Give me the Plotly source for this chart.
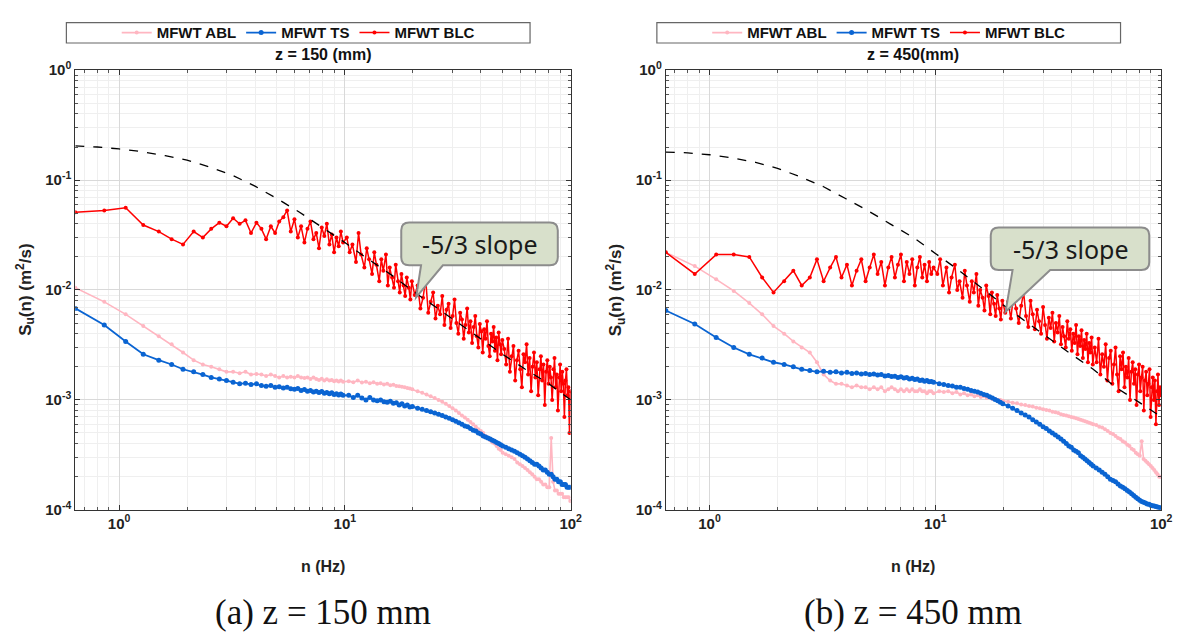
import plotly.graph_objects as go

W, H = 1189, 642

# ---------------- data ----------------
freq_hz = [0.64, 0.86, 1.07, 1.28, 1.50, 1.71, 1.92, 2.14, 2.35, 2.56, 2.78,
           2.99, 3.20, 3.42, 3.63, 3.84, 4.06, 4.27, 4.48, 4.70, 4.91, 5.12,
           5.34, 5.55, 5.76, 5.98, 6.19, 6.40, 6.62, 6.83, 7.04, 7.26, 7.47,
           7.68, 7.90, 8.11, 8.32, 8.54, 8.75, 8.96, 9.18, 9.39, 9.60, 9.82,
           10.4, 10.9, 11.4, 11.9, 12.4, 12.9, 13.4, 13.9, 14.4, 14.9,
           15.4, 15.9, 16.4, 16.9, 17.4, 17.9, 18.4, 18.9, 19.4, 19.9,
           21, 22, 23, 24, 25, 26, 27, 28, 29, 30,
           31, 32, 33, 34, 35, 36, 37, 38, 39, 40,
           41, 42, 43, 44, 45, 46, 47, 48, 49, 50,
           51.6, 53.2, 54.8, 56.4, 58.0, 59.6, 61.2, 62.8, 64.4, 66.0,
           67.6, 69.2, 70.8, 72.4, 74.0, 75.6, 77.2, 78.8, 80.4, 82.0,
           83.6, 85.2, 86.8, 88.4, 90.0, 91.6, 93.2, 94.8, 96.4, 98.0,
           99.6]

# denser frequency grid of the BLC (red) spectra
freq_blc = [0.64, 0.86, 1.07, 1.28, 1.50, 1.71, 1.92, 2.14, 2.35, 2.56, 2.78,
            2.99, 3.20, 3.42, 3.63, 3.84, 4.06, 4.27, 4.48, 4.70, 4.91, 5.12,
            5.34, 5.55, 5.76, 5.98, 6.19, 6.40, 6.62, 6.83, 7.04, 7.26, 7.47,
            7.68, 7.90, 8.11, 8.32, 8.54, 8.75, 8.96, 9.18, 9.39, 9.60, 9.82,
            10.2, 10.5, 10.8, 11.2, 11.5, 11.8, 12.2, 12.5, 12.8, 13.2,
            13.5, 13.8, 14.2, 14.5, 14.8, 15.2, 15.5, 15.8, 16.2, 16.5,
            16.8, 17.2, 17.5, 17.8, 18.2, 18.5, 18.8, 19.2, 19.5, 19.8,
            20.4, 21.0, 21.6, 22.2, 22.8, 23.4, 24.0, 24.6, 25.2, 25.8,
            26.4, 27.0, 27.6, 28.2, 28.8, 29.4, 30.0, 30.6, 31.2, 31.8,
            32.4, 33.0, 33.6, 34.2, 34.8, 35.4, 36.0, 36.6, 37.2, 37.8,
            38.4, 39.0, 39.6, 40.2, 40.8, 41.4, 42.0, 42.6, 43.2, 43.8,
            44.4, 45.0, 45.6, 46.2, 46.8, 47.4, 48.0, 48.6, 49.2, 49.8,
            50.8, 51.8, 52.8, 53.8, 54.8, 55.8, 56.8, 57.8, 58.8, 59.8,
            60.8, 61.8, 62.8, 63.8, 64.8, 65.8, 66.8, 67.8, 68.8, 69.8,
            70.8, 71.8, 72.8, 73.8, 74.8, 75.8, 76.8, 77.8, 78.8, 79.8,
            80.8, 81.8, 82.8, 83.8, 84.8, 85.8, 86.8, 87.8, 88.8, 89.8,
            90.8, 91.8, 92.8, 93.8, 94.8, 95.8, 96.8, 97.8, 98.8, 99.8]

# z = 150 mm
abl_150 = [0.0105, 0.0078, 0.0060, 0.0047, 0.0038, 0.0032, 0.0027, 0.0023, 0.0021, 0.0020, 0.0019,
           0.0018, 0.0018, 0.00175, 0.0018, 0.0017, 0.00172, 0.0017, 0.00165, 0.0017, 0.00165, 0.0016,
           0.00165, 0.0016, 0.00162, 0.0016, 0.00165, 0.0016, 0.00158, 0.0016, 0.00155, 0.0016, 0.00155,
           0.00152, 0.00156, 0.0015, 0.00154, 0.0015, 0.00152, 0.00148, 0.0015, 0.00147, 0.0015, 0.00146,
           0.00148, 0.00145, 0.0015, 0.00144, 0.00146, 0.00142, 0.00145, 0.0014, 0.00142, 0.00138,
           0.0014, 0.00136, 0.00137, 0.00134, 0.00133, 0.00132, 0.0013, 0.00128, 0.00127, 0.00125,
           0.0012, 0.00116, 0.00112, 0.00108, 0.00104, 0.001, 0.00096, 0.00092, 0.00088, 0.00084,
           0.0008, 0.00076, 0.00072, 0.00069, 0.00066, 0.00063, 0.0006, 0.00057, 0.00054, 0.00052,
           0.0005, 0.00047, 0.00045, 0.00043, 0.00041, 0.0004, 0.00038, 0.00036, 0.00035, 0.00033,
           0.00032, 0.00031, 0.0003, 0.00029, 0.00027, 0.00026, 0.00025, 0.00024, 0.00023, 0.00022,
           0.00021, 0.0002, 0.00019, 0.00019, 0.00018, 0.00017, 0.00017, 0.00016, 0.00016, 0.00045,
           0.00018, 0.00015, 0.00015, 0.00014, 0.00014, 0.00014, 0.00013, 0.00013, 0.00013, 0.00013,
           0.00012]
ts_150 = [0.0068, 0.0048, 0.0034, 0.0026, 0.0023, 0.0021, 0.0019, 0.0018, 0.0017, 0.0016, 0.00155,
          0.0015, 0.00145, 0.0014, 0.00142, 0.00138, 0.0014, 0.00135, 0.00133, 0.00135, 0.0013, 0.00132,
          0.00128, 0.0013, 0.00126, 0.00125, 0.00127, 0.00122, 0.00124, 0.0012, 0.00122, 0.00118, 0.0012,
          0.00117, 0.00119, 0.00115, 0.00117, 0.00114, 0.00116, 0.00112, 0.00114, 0.00111, 0.00113, 0.0011,
          0.0011, 0.00105, 0.0011, 0.00104, 0.001, 0.00105, 0.001, 0.00098, 0.001, 0.00096,
          0.00095, 0.00097, 0.00093, 0.00094, 0.0009, 0.00092, 0.00088, 0.0009, 0.00086, 0.00087,
          0.00084, 0.00082, 0.0008, 0.00078, 0.00076, 0.00074, 0.00072, 0.0007, 0.00068, 0.00066,
          0.00064, 0.00062, 0.0006, 0.00058, 0.00057, 0.00055, 0.00053, 0.00052, 0.0005, 0.00049,
          0.00047, 0.00046, 0.00045, 0.00044, 0.00043, 0.00042, 0.00041, 0.0004, 0.00039, 0.00038,
          0.00037, 0.00036, 0.00035, 0.00034, 0.00033, 0.00032, 0.00031, 0.0003, 0.00029, 0.00028,
          0.00027, 0.00026, 0.00026, 0.00025, 0.00024, 0.00023, 0.00023, 0.00022, 0.00021, 0.00021,
          0.0002, 0.00019, 0.00019, 0.00018, 0.00018, 0.00017, 0.00017, 0.00017, 0.00016, 0.00016,
          0.00016]
blc_150 = [0.051, 0.053, 0.056, 0.039, 0.034, 0.029, 0.026, 0.034, 0.030, 0.036, 0.041,
           0.038, 0.045, 0.040, 0.043, 0.033, 0.041, 0.036, 0.029, 0.038, 0.033, 0.042,
           0.046, 0.053, 0.034, 0.044, 0.030, 0.038, 0.027, 0.036, 0.042, 0.029, 0.033,
           0.024, 0.037, 0.031, 0.040, 0.026, 0.032, 0.022, 0.030, 0.025, 0.034, 0.027,
           0.030, 0.022, 0.026, 0.018, 0.033, 0.021, 0.016, 0.024, 0.019, 0.014,
           0.022, 0.017, 0.012, 0.019, 0.015, 0.021, 0.011, 0.016, 0.013, 0.0105,
           0.017, 0.012, 0.0095, 0.014, 0.011, 0.0088, 0.013, 0.0105, 0.0082, 0.012,
           0.0090, 0.0110, 0.0068, 0.0085, 0.0125, 0.0062, 0.0078, 0.0095, 0.0055, 0.0072,
           0.0060, 0.0088, 0.0048, 0.0066, 0.0075, 0.0045, 0.0058, 0.0082, 0.0050, 0.0040,
           0.0062, 0.0054, 0.0036, 0.0048, 0.0068, 0.0041, 0.0052, 0.0033, 0.0046, 0.0058,
           0.0038, 0.0030, 0.0049, 0.0042, 0.0027, 0.0044, 0.0036, 0.0052, 0.0031, 0.0025,
           0.0040, 0.0034, 0.0046, 0.0028, 0.0037, 0.0023, 0.0041, 0.0032, 0.0026, 0.0035,
           0.0029, 0.0021, 0.0036, 0.0018, 0.0025, 0.0031, 0.0015, 0.0023, 0.0028, 0.0019,
           0.0013, 0.0026, 0.0022, 0.0032, 0.0017, 0.0024, 0.0012, 0.0020, 0.0027, 0.0016,
           0.0022, 0.0011, 0.0019, 0.0025, 0.0015, 0.0021, 0.0009, 0.0018, 0.0023, 0.0014,
           0.0020, 0.0016, 0.0010, 0.0019, 0.0024, 0.0013, 0.0017, 0.0008, 0.0016, 0.0021,
           0.0012, 0.0018, 0.0014, 0.0007, 0.0015, 0.0019, 0.0011, 0.0013, 0.0005, 0.0012]

# z = 450 mm
abl_450 = [0.022, 0.0165, 0.0125, 0.0098, 0.0076, 0.0060, 0.0047, 0.0040, 0.0034, 0.0030, 0.0027,
           0.0022, 0.0017, 0.0015, 0.0014, 0.0014, 0.00135, 0.0013, 0.00135, 0.0013, 0.0013, 0.00125,
           0.0013, 0.00125, 0.0013, 0.0012, 0.00125, 0.0013, 0.00125, 0.0012, 0.00125, 0.0012, 0.00125,
           0.0012, 0.00125, 0.0012, 0.0012, 0.00125, 0.0012, 0.0012, 0.00115, 0.0012, 0.0012, 0.00115,
           0.0012, 0.00118, 0.0012, 0.00115, 0.00118, 0.00112, 0.00115, 0.0011, 0.00112, 0.00108,
           0.0011, 0.00106, 0.00108, 0.00104, 0.00105, 0.00102, 0.00102, 0.001, 0.001, 0.00098,
           0.00096, 0.00094, 0.00093, 0.00091, 0.0009, 0.00088, 0.00087, 0.00085, 0.00084, 0.00082,
           0.00081, 0.0008, 0.00078, 0.00077, 0.00076, 0.00074, 0.00073, 0.00072, 0.00071, 0.0007,
           0.00069, 0.00068, 0.00067, 0.00066, 0.00065, 0.00064, 0.00063, 0.00062, 0.00061, 0.0006,
           0.00059, 0.00057, 0.00056, 0.00054, 0.00052, 0.0005, 0.00049, 0.00047, 0.00045, 0.00044,
           0.00042, 0.00041, 0.00039, 0.00038, 0.00036, 0.00035, 0.00033, 0.00032, 0.00031, 0.00042,
           0.00029, 0.00028, 0.00027, 0.00026, 0.00025, 0.00024, 0.00023, 0.00022, 0.00021, 0.0002,
           0.0002]
ts_450 = [0.0065, 0.0049, 0.0037, 0.0030, 0.0026, 0.0024, 0.0022, 0.0021, 0.0020, 0.0019, 0.00185,
          0.0018, 0.00182, 0.00178, 0.0018, 0.00176, 0.00178, 0.00174, 0.00176, 0.00172, 0.00174, 0.0017,
          0.00172, 0.00168, 0.0017, 0.00165, 0.00167, 0.00163, 0.00164, 0.0016, 0.00162, 0.00158, 0.0016,
          0.00155, 0.00157, 0.00153, 0.00155, 0.0015, 0.00152, 0.00148, 0.0015, 0.00146, 0.00147, 0.00145,
          0.0014, 0.00138, 0.00135, 0.00134, 0.0013, 0.0013, 0.00127, 0.00125, 0.00122, 0.0012,
          0.00118, 0.00115, 0.00112, 0.0011, 0.00107, 0.00104, 0.00101, 0.00098, 0.00095, 0.00092,
          0.00088, 0.00084, 0.0008, 0.00076, 0.00073, 0.0007, 0.00066, 0.00063, 0.0006, 0.00057,
          0.00055, 0.00052, 0.0005, 0.00048, 0.00046, 0.00044, 0.00042, 0.0004, 0.00038, 0.00037,
          0.00035, 0.00034, 0.00033, 0.00031, 0.0003, 0.00029, 0.00028, 0.00027, 0.00026, 0.00025,
          0.00024, 0.00023, 0.00022, 0.00021, 0.0002, 0.00019, 0.000185, 0.00018, 0.000172, 0.000165,
          0.00016, 0.000155, 0.00015, 0.000145, 0.00014, 0.000135, 0.00013, 0.000126, 0.000122, 0.000119,
          0.000117, 0.000115, 0.000113, 0.000112, 0.00011, 0.000109, 0.000108, 0.000107, 0.000106, 0.000105,
          0.000104]
blc_450 = [0.022, 0.014, 0.021, 0.021, 0.020, 0.013, 0.0095, 0.012, 0.015, 0.011, 0.013,
           0.019, 0.012, 0.016, 0.020, 0.013, 0.017, 0.011, 0.015, 0.019, 0.012, 0.016,
           0.021, 0.014, 0.018, 0.011, 0.016, 0.020, 0.013, 0.017, 0.021, 0.012, 0.018,
           0.014, 0.019, 0.011, 0.016, 0.020, 0.013, 0.017, 0.012, 0.018, 0.014, 0.016,
           0.014, 0.019, 0.011, 0.016, 0.0095, 0.013, 0.017, 0.010, 0.012, 0.0085,
           0.015, 0.011, 0.0078, 0.012, 0.0095, 0.014, 0.0072, 0.010, 0.0085, 0.0065,
           0.011, 0.0088, 0.0060, 0.0095, 0.0075, 0.0058, 0.0090, 0.0068, 0.0054, 0.0080,
           0.0062, 0.0078, 0.0055, 0.0090, 0.0068, 0.0050, 0.0072, 0.0095, 0.0058, 0.0046,
           0.0080, 0.0060, 0.0044, 0.0066, 0.0052, 0.0040, 0.0070, 0.0048, 0.0036, 0.0056,
           0.0045, 0.0062, 0.0034, 0.0050, 0.0041, 0.0058, 0.0032, 0.0046, 0.0038, 0.0030,
           0.0052, 0.0036, 0.0044, 0.0028, 0.0040, 0.0033, 0.0048, 0.0026, 0.0038, 0.0031,
           0.0043, 0.0024, 0.0035, 0.0029, 0.0040, 0.0022, 0.0033, 0.0027, 0.0037, 0.0021,
           0.0030, 0.0022, 0.0036, 0.0017, 0.0026, 0.0020, 0.0032, 0.0015, 0.0024, 0.0028,
           0.0014, 0.0021, 0.0030, 0.0017, 0.0012, 0.0025, 0.0019, 0.0027, 0.0013, 0.0020,
           0.0016, 0.0024, 0.0010, 0.0018, 0.0022, 0.0014, 0.0019, 0.0009, 0.0017, 0.0021,
           0.0012, 0.0016, 0.0020, 0.0008, 0.0015, 0.0018, 0.0011, 0.0014, 0.0019, 0.0007,
           0.0013, 0.0016, 0.0010, 0.0015, 0.0006, 0.0012, 0.0017, 0.0009, 0.0013, 0.0011]

# reference (dashed) spectra
model_freq = [0.64, 0.8, 1, 1.25, 1.6, 2, 2.5, 3.2, 4, 5, 6.3, 8, 10, 12.5, 16, 20,
              25, 32, 40, 50, 63, 80, 100]
model_150 = [0.205, 0.2, 0.192, 0.182, 0.167, 0.152, 0.132, 0.11, 0.088, 0.068, 0.051,
             0.037, 0.027, 0.0195, 0.0138, 0.0098, 0.0071, 0.005, 0.0036, 0.0026, 0.0019,
             0.0014, 0.001]
model_450 = [0.18, 0.177, 0.17, 0.16, 0.145, 0.128, 0.108, 0.087, 0.068, 0.053, 0.040,
             0.030, 0.0215, 0.0155, 0.0105, 0.0073, 0.0052, 0.0036, 0.0026, 0.0019, 0.0013,
             0.00095, 0.0007]

series_names = ["MFWT ABL", "MFWT TS", "MFWT BLC"]
series_colors = ["#ffb6c1", "#0a64d2", "#ff0000"]
panel_titles = ["z = 150 (mm)", "z = 450(mm)"]
captions = ["(a) z = 150 mm", "(b) z = 450 mm"]
x_tick_vals = [1, 10, 100]
x_tick_text = ["<b>10<sup>0</sup></b>", "<b>10<sup>1</sup></b>", "<b>10<sup>2</sup></b>"]
y_tick_vals = [1e-4, 1e-3, 1e-2, 1e-1, 1]
y_tick_text = ["<b>10<sup>-4</sup></b>", "<b>10<sup>-3</sup></b>", "<b>10<sup>-2</sup></b>",
               "<b>10<sup>-1</sup></b>", "<b>10<sup>0</sup></b>"]

for arr in (abl_150, ts_150, abl_450, ts_450):
    assert len(arr) == len(freq_hz), len(arr)
for arr in (blc_150, blc_450):
    assert len(arr) == len(freq_blc), len(arr)

# ---------------- layout geometry (pixels) ----------------
def px(x):
    return x / W

def py(y):
    return 1 - y / H

panels = [
    dict(x0=76, x1=576, data=[abl_150, ts_150, blc_150], model=model_150,
         legend_box=(67, 12, 535, 33), bubble=(405, 218, 563, 262, 425, 447, 420, 295)),
    dict(x0=672, x1=1172, data=[abl_450, ts_450, blc_450], model=model_450,
         legend_box=(663, 12, 1131, 33), bubble=(1000, 223, 1160, 267, 1022, 1060, 1015, 310)),
]
PLOT_TOP, PLOT_BOT = 61, 514
FONT = "Arial, Liberation Sans, sans-serif"

fig = go.Figure()
shapes = []
annotations = []
layout_axes = {}

for i, p in enumerate(panels):
    sfx = "" if i == 0 else str(i + 1)
    xa, ya = "x" + sfx, "y" + sfx
    leg = "legend" if i == 0 else "legend2"
    xs = [freq_hz, freq_hz, freq_blc]
    msizes = [4, 5, 4]
    widths = [1.6, 1.8, 1.5]
    for name, color, xv, yv, ms, lw in zip(series_names, series_colors, xs, p["data"], msizes, widths):
        fig.add_trace(go.Scatter(
            x=xv, y=yv, mode="lines+markers", name=name,
            line=dict(color=color, width=lw),
            marker=dict(color=color, size=ms),
            xaxis=xa, yaxis=ya, legend=leg))
    fig.add_trace(go.Scatter(
        x=model_freq, y=p["model"], mode="lines", showlegend=False,
        line=dict(color="black", width=1.3, dash="dash"),
        xaxis=xa, yaxis=ya, hoverinfo="skip"))

    common = dict(
        type="log", showline=True, linecolor="#333", linewidth=1, mirror="ticks",
        ticks="inside", ticklen=5, tickcolor="#333",
        showgrid=True, gridcolor="#d9d9d9", gridwidth=1,
        tickfont=dict(family=FONT, size=15, color="#222"),
        zeroline=False,
    )
    layout_axes["xaxis" + sfx] = dict(
        common, domain=[px(p["x0"]), px(p["x1"])], anchor=ya,
        range=[-0.1938, 2], tickvals=x_tick_vals, ticktext=x_tick_text,
        minor=dict(tickvals=[0.7, 0.8, 0.9, 2, 3, 4, 5, 6, 7, 8, 9,
                             20, 30, 40, 50, 60, 70, 80, 90],
                   ticks="inside", ticklen=3, tickcolor="#555",
                   showgrid=True, gridcolor="#efefef", gridwidth=1))
    layout_axes["yaxis" + sfx] = dict(
        common, domain=[py(PLOT_BOT), py(PLOT_TOP)], anchor=xa,
        range=[-4, 0], tickvals=y_tick_vals, ticktext=y_tick_text,
        minor=dict(tickvals=[k * 10 ** e for e in (-4, -3, -2, -1) for k in range(2, 10)],
                   ticks="inside", ticklen=3, tickcolor="#555",
                   showgrid=True, gridcolor="#efefef", gridwidth=1))

    cx = (p["x0"] + p["x1"]) / 2
    # legend frame
    lx0, ly0, lx1, ly1 = p["legend_box"]
    shapes.append(dict(type="rect", xref="paper", yref="paper",
                       x0=px(lx0), x1=px(lx1), y0=py(ly1), y1=py(ly0),
                       line=dict(color="#666", width=1.2), fillcolor="white", layer="below"))
    layout_axes[leg] = dict(
        x=px((lx0 + lx1) / 2), y=py((ly0 + ly1) / 2), xanchor="center", yanchor="middle",
        orientation="h", bgcolor="rgba(0,0,0,0)", borderwidth=0,
        font=dict(family=FONT, size=15, color="#111", weight="bold"),
        itemwidth=30, tracegroupgap=0)

    # title
    annotations.append(dict(text="<b>" + panel_titles[i] + "</b>", x=px(cx), y=py(45),
                            xref="paper", yref="paper", showarrow=False,
                            xanchor="center", yanchor="middle",
                            font=dict(family=FONT, size=16, color="#111")))
    # axis titles
    annotations.append(dict(text="<b>n (Hz)</b>", x=px(cx), y=py(572),
                            xref="paper", yref="paper", showarrow=False,
                            xanchor="center", yanchor="middle",
                            font=dict(family=FONT, size=16, color="#222")))
    annotations.append(dict(text="<b>S<sub>u</sub>(n) (m<sup>2</sup>/s)</b>",
                            x=px(p["x0"] - 50), y=py((PLOT_TOP + PLOT_BOT) / 2),
                            xref="paper", yref="paper", showarrow=False, textangle=-90,
                            xanchor="center", yanchor="middle",
                            font=dict(family=FONT, size=17, color="#222")))
    # caption
    annotations.append(dict(text=captions[i], x=px(cx), y=py(620),
                            xref="paper", yref="paper", showarrow=False,
                            xanchor="center", yanchor="middle",
                            font=dict(family="Liberation Serif, Times New Roman", size=35,
                                      color="#111")))
    # speech bubble
    bx0, by0, bx1, by1, tb0, tb1, tipx, tipy = p["bubble"]
    r = 8
    pts = [
        ("M", bx0 + r, by0), ("L", bx1 - r, by0), ("Q", bx1, by0, bx1, by0 + r),
        ("L", bx1, by1 - r), ("Q", bx1, by1, bx1 - r, by1), ("L", tb1, by1),
        ("L", tipx, tipy), ("L", tb0, by1), ("L", bx0 + r, by1),
        ("Q", bx0, by1, bx0, by1 - r), ("L", bx0, by0 + r), ("Q", bx0, by0, bx0 + r, by0),
    ]
    path = ""
    for cmd in pts:
        c = cmd[0]
        coords = cmd[1:]
        s = []
        for j in range(0, len(coords), 2):
            s.append(f"{px(coords[j]):.5f},{py(coords[j + 1]):.5f}")
        path += c + " " + " ".join(s) + " "
    path += "Z"
    shapes.append(dict(type="path", path=path, xref="paper", yref="paper",
                       fillcolor="#d8e0cb", line=dict(color="#8c8c8c", width=2), layer="above"))
    annotations.append(dict(text="-5/3 slope", x=px((bx0 + bx1) / 2), y=py((by0 + by1) / 2),
                            xref="paper", yref="paper", showarrow=False,
                            xanchor="center", yanchor="middle",
                            font=dict(family="Noto Sans, Open Sans", size=25, color="#1a1a1a")))

fig.update_layout(
    width=W, height=H, margin=dict(l=0, r=0, t=0, b=0),
    paper_bgcolor="white", plot_bgcolor="white",
    shapes=shapes, annotations=annotations, showlegend=True,
    **layout_axes,
)

fig.write_html("out.html")
